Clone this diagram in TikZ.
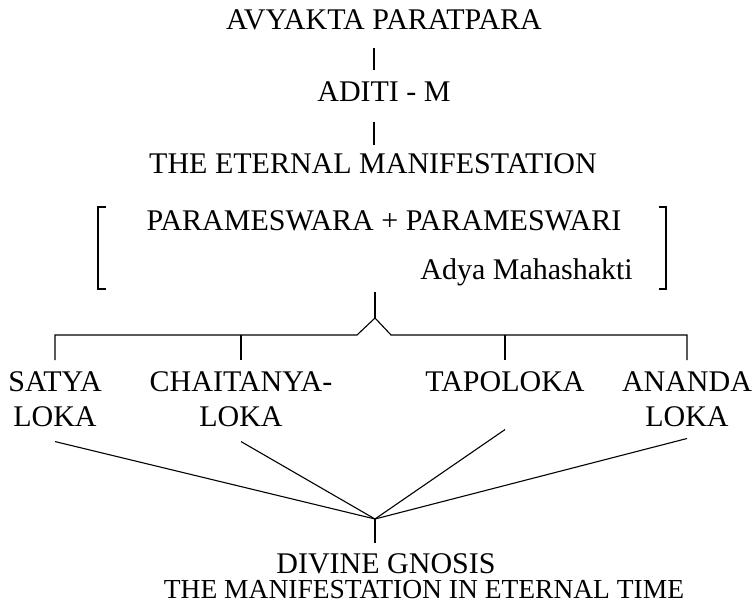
\documentclass[tikz,border=0pt]{standalone}
\usepackage{fontspec}
\setmainfont{Liberation Serif}
\usetikzlibrary{calc}

\tikzset{
	lbl/.style={inner sep=0pt, text height=20pt, text depth=0pt, font=\fontsize{30}{35}\selectfont},
	stack/.style={inner sep=0pt, align=center, anchor=north, font=\fontsize{30}{35}\selectfont},
	link/.style={line width=1.1pt},
}

\begin{document}
\begin{tikzpicture}[x=1pt,y=-1pt]
	
	\useasboundingbox (0,0) rectangle (755,608);
	\coordinate (axis) at (374,0);
	
	% upper chain
	\node[lbl, anchor=base] (avyakta) at (384,29) {AVYAKTA PARATPARA};
	\node[lbl, anchor=base] (aditi) at (384,101) {ADITI - M};
	\node[lbl, anchor=base] (eternal) at (373,173) {THE ETERNAL MANIFESTATION};
	\draw[link] ($(avyakta.south -| axis)+(0,19)$) -- ($(aditi.north -| axis)+(0,-11)$);
	\draw[link] ($(aditi.south -| axis)+(0,21)$) -- ($(eternal.north -| axis)+(0,-8)$);
	
	% bracketed pair
	\node[lbl, anchor=base] (pair) at (384,230) {PARAMESWARA + PARAMESWARI};
	\node[lbl, anchor=base east] (adya) at (633,279) {Adya Mahashakti};
	\coordinate (brtl) at (98,207);
	\coordinate (brbl) at (98,289);
	\coordinate (brtr) at (666,207);
	\coordinate (brbr) at (666,289);
	\draw[link] ($(brtl)+(8,0)$) -- (brtl) -- (brbl) -- ($(brbl)+(8,0)$);
	\draw[link] ($(brtr)+(-7,0)$) -- (brtr) -- (brbr) -- ($(brbr)+(-7,0)$);
	
	% the four lokas
	\node[stack] (satya) at (55,371) {SATYA\\LOKA};
	\node[stack] (chait) at (241,371) {CHAITANYA-\\LOKA};
	\node[stack] (tapo) at (505,371) {TAPOLOKA};
	\node[stack] (ananda) at (687,371) {ANANDA\\LOKA};
	
	% branching bar with caret
	\coordinate (foot) at (375,292);
	\coordinate (apex) at (375,318);
	\coordinate (caretl) at (357,335);
	\coordinate (caretr) at (391,335);
	\draw[link] (foot) -- (apex);
	\draw[link] ($(satya.north)+(0,-11)$) |- (caretl) -- (apex) -- (caretr) -| ($(ananda.north)+(0,-11)$);
	\draw[link] ($(chait.north)+(0,-11)$) -- (chait.north |- caretl);
	\draw[link] ($(tapo.north)+(0,-11)$) -- (tapo.north |- caretl);
	
	% converging lines
	\coordinate (hub) at (375,519);
	\foreach \n/\d in {satya/15, chait/15, tapo/38, ananda/12}
	\draw[link] ($(\n.south)+(0,\d)$) -- (hub);
	
	% lower texts
	\node[lbl, anchor=base] (gnosis) at (386,573) {DIVINE GNOSIS};
	\node[lbl, anchor=base, text height=18pt, font=\fontsize{27.5}{33}\selectfont] (timeline) at (424,598) {THE MANIFESTATION IN ETERNAL TIME};
	\draw[link] (hub) -- ($(gnosis.north -| hub)+(0,-10)$);
	
\end{tikzpicture}
\end{document}
